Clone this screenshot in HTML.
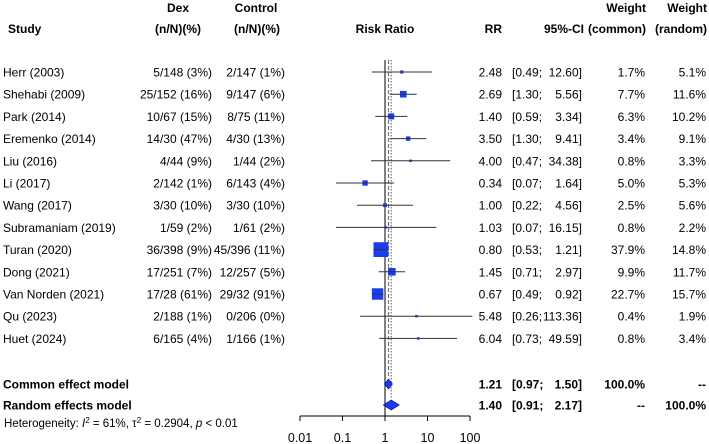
<!DOCTYPE html>
<html><head><meta charset="utf-8"><style>
body{margin:0;background:#fff}
svg{display:block;font-family:"Liberation Sans",Arial,sans-serif;font-size:12px;fill:#000}
.b{font-weight:bold}
</style></head><body>
<svg id="c" width="709" height="444">
<g class="b">
<text x="8" y="33">Study</text>
<text x="178" y="12" text-anchor="middle">Dex</text>
<text x="201" y="33" text-anchor="end">(n/N)(%)</text>
<text x="256" y="12" text-anchor="middle">Control</text>
<text x="280" y="33" text-anchor="end">(n/N)(%)</text>
<text x="385" y="33" text-anchor="middle">Risk Ratio</text>
<text x="502" y="33" text-anchor="end">RR</text>
<text x="584" y="33" text-anchor="end">95%-CI</text>
<text x="646" y="12" text-anchor="end">Weight</text>
<text x="646" y="33" text-anchor="end">(common)</text>
<text x="707" y="12" text-anchor="end">Weight</text>
<text x="707" y="33" text-anchor="end">(random)</text>
</g>
<g id="rows"></g>
<text x="4" y="427" font-size="11.5px">Heterogeneity: <tspan font-style="italic">I</tspan><tspan dy="-4" font-size="8">2</tspan><tspan dy="4"> = 61%, τ</tspan><tspan dy="-4" font-size="8">2</tspan><tspan dy="4"> = 0.2904, </tspan><tspan font-style="italic">p</tspan> &lt; 0.01</text>
</svg>
<script>
const studies=["Herr (2003)","Shehabi (2009)","Park (2014)","Eremenko (2014)","Liu (2016)","Li (2017)","Wang (2017)","Subramaniam (2019)","Turan (2020)","Dong (2021)","Van Norden (2021)","Qu (2023)","Huet (2024)"];
const dexCol=["5/148 (3%)","25/152 (16%)","10/67 (15%)","14/30 (47%)","4/44 (9%)","2/142 (1%)","3/30 (10%)","1/59 (2%)","36/398 (9%)","17/251 (7%)","17/28 (61%)","2/188 (1%)","6/165 (4%)"];
const ctlCol=["2/147 (1%)","9/147 (6%)","8/75 (11%)","4/30 (13%)","1/44 (2%)","6/143 (4%)","3/30 (10%)","1/61 (2%)","45/396 (11%)","12/257 (5%)","29/32 (91%)","0/206 (0%)","1/166 (1%)"];
const rr=[2.48,2.69,1.40,3.50,4.00,0.34,1.00,1.03,0.80,1.45,0.67,5.48,6.04];
const lo=[0.49,1.30,0.59,1.30,0.47,0.07,0.22,0.07,0.53,0.71,0.49,0.26,0.73];
const hi=[12.60,5.56,3.34,9.41,34.38,1.64,4.56,16.15,1.21,2.97,0.92,113.36,49.59];
const wCommon=[1.7,7.7,6.3,3.4,0.8,5.0,2.5,0.8,37.9,9.9,22.7,0.4,0.8];
const wRandom=[5.1,11.6,10.2,9.1,3.3,5.3,5.6,2.2,14.8,11.7,15.7,1.9,3.4];
const pooledNames=["Common effect model","Random effects model"];
const pooledRR=[1.21,1.40],pooledLo=[0.97,0.91],pooledHi=[1.50,2.17];
const pooledWC=["100.0%","--"],pooledWR=["--","100.0%"];
const ticks=[0.01,0.1,1,10,100];
const X=v=>385+42.5*Math.log10(v);
const rowY=i=>72+i*22.2;
const NS="http://www.w3.org/2000/svg",g=document.getElementById('rows');
function mk(t,a,name,txt){const e=document.createElementNS(NS,t);for(const k in a)e.setAttribute(k,a[k]);


if(txt!==undefined)e.textContent=txt;g.appendChild(e);return e;}
const f2=v=>v.toFixed(2);
mk('line',{x1:X(1),x2:X(1),y1:60,y2:416,stroke:'#000','stroke-width':1},'null-line');
mk('line',{x1:X(pooledRR[0]),x2:X(pooledRR[0]),y1:60,y2:378,stroke:'#777','stroke-width':1.2,'stroke-dasharray':'4,2'},'common-effect-line');
mk('line',{x1:X(pooledRR[1]),x2:X(pooledRR[1]),y1:60,y2:398,stroke:'#777','stroke-width':1.2,'stroke-dasharray':'1.5,1.5'},'random-effect-line');
studies.forEach((s,i)=>{const y=rowY(i),ty=y+4.5;
mk('text',{x:3,y:ty},'study-label',s);
mk('text',{x:212,y:ty,'text-anchor':'end'},'dex-events',dexCol[i]);
mk('text',{x:285,y:ty,'text-anchor':'end'},'control-events',ctlCol[i]);
mk('text',{x:502,y:ty,'text-anchor':'end'},'rr-value',f2(rr[i]));
mk('text',{x:512,y:ty},'ci-lower','['+f2(lo[i])+';');
mk('text',{x:582,y:ty,'text-anchor':'end'},'ci-upper',f2(hi[i])+']');
mk('text',{x:645,y:ty,'text-anchor':'end'},'weight-common',wCommon[i].toFixed(1)+'%');
mk('text',{x:706,y:ty,'text-anchor':'end'},'weight-random',wRandom[i].toFixed(1)+'%');
const a=Math.max(X(lo[i]),X(0.01)-8),b=Math.min(X(hi[i]),X(100)+8);
const sz=Math.max(2.5,Math.sqrt(wCommon[i])*2.4);
mk('rect',{x:X(rr[i])-sz/2,y:y-sz/2,width:sz,height:sz,fill:'#1a3cf0'},'study-square');
mk('line',{x1:a,x2:b,y1:y,y2:y,stroke:'#333','stroke-width':1},'study-ci');
});
pooledNames.forEach((n,j)=>{const y=j?405:384,ty=y+4.5;
mk('text',{x:3,y:ty,class:'b'},'pooled-label',n);
mk('text',{x:502,y:ty,'text-anchor':'end',class:'b'},'pooled-rr',f2(pooledRR[j]));
mk('text',{x:512,y:ty,class:'b'},'pooled-ci-lower','['+f2(pooledLo[j])+';');
mk('text',{x:582,y:ty,'text-anchor':'end',class:'b'},'pooled-ci-upper',f2(pooledHi[j])+']');
mk('text',{x:645,y:ty,'text-anchor':'end',class:'b'},'pooled-weight-common',pooledWC[j]);
mk('text',{x:706,y:ty,'text-anchor':'end',class:'b'},'pooled-weight-random',pooledWR[j]);
mk('polygon',{points:`${X(pooledLo[j])},${y} ${X(pooledRR[j])},${y-5} ${X(pooledHi[j])},${y} ${X(pooledRR[j])},${y+5}`,fill:'#1a3cf0',stroke:'#00008b','stroke-width':0.6},'pooled-diamond');
});
mk('line',{x1:X(0.01),x2:X(100),y1:416,y2:416,stroke:'#000'},'x-axis');
ticks.forEach(t=>{mk('line',{x1:X(t),x2:X(t),y1:416,y2:421,stroke:'#000'},'x-tick');
mk('text',{x:X(t),y:442,'text-anchor':'middle','font-size':'12.5px'},'x-tick-label',String(t));});
</script>
</body></html>
